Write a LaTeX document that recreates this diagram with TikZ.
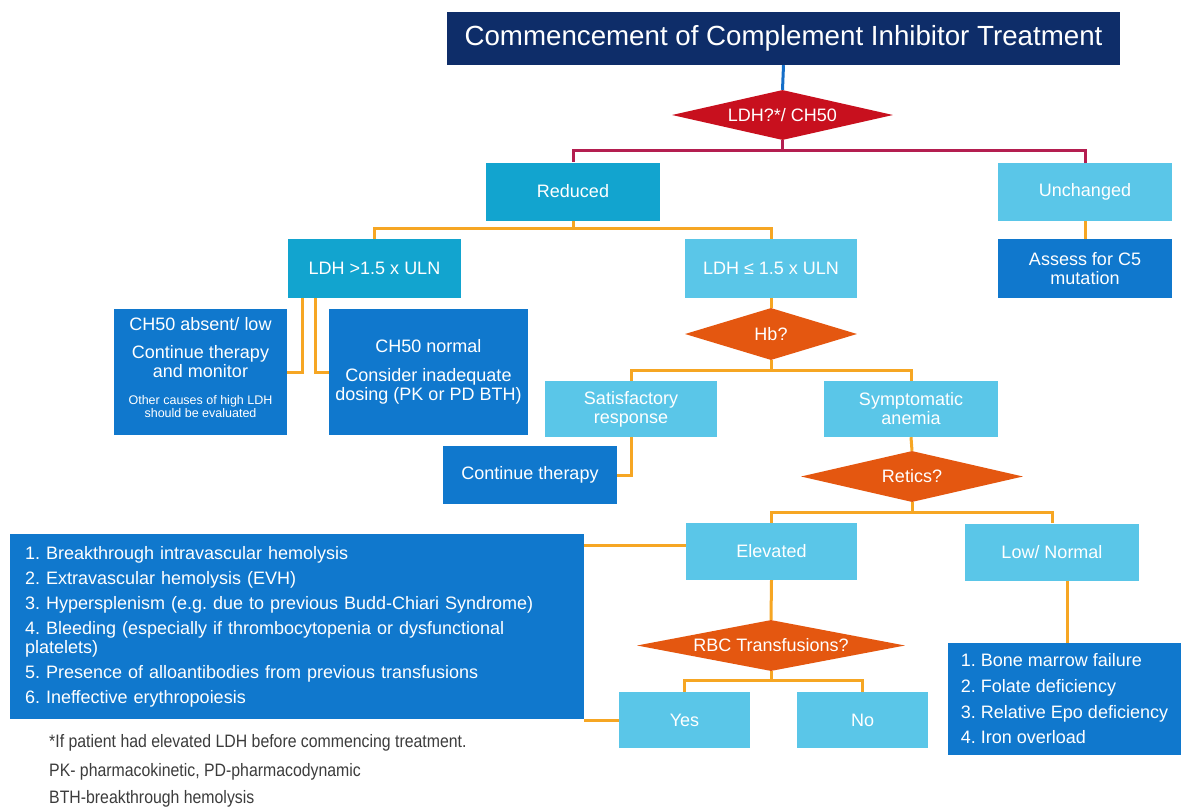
\documentclass[tikz,border=0pt]{standalone}
\usepackage{fontspec}
\setmainfont{Liberation Sans}
\newfontfamily\narrowfont[FakeStretch=0.88]{Liberation Sans}
\usetikzlibrary{shapes.geometric}
\definecolor{cnavy}{RGB}{14,45,105}
\definecolor{cred}{RGB}{200,16,30}
\definecolor{ccrim}{RGB}{180,30,80}
\definecolor{cteal}{RGB}{18,164,207}
\definecolor{clight}{RGB}{90,198,232}
\definecolor{cmed}{RGB}{16,120,205}
\definecolor{corange}{RGB}{228,87,16}
\definecolor{cline}{RGB}{246,166,35}
\definecolor{cblue}{RGB}{20,110,200}
\definecolor{cgray}{RGB}{60,60,60}
\begin{document}
\frenchspacing
\begin{tikzpicture}[x=1pt,y=-1pt,
  box/.style={rectangle, inner sep=0pt, text=white, align=center,
    font=\fontsize{18}{19}\selectfont},
  tealbox/.style={box, fill=cteal},
  lightbox/.style={box, fill=clight},
  medbox/.style={box, fill=cmed},
  dia/.style={diamond, aspect=5, inner sep=0pt, text=white,
    font=\fontsize{18}{19}\selectfont},
  reddia/.style={dia, fill=cred},
  orangedia/.style={dia, fill=corange},
  oline/.style={draw=cline, line width=3pt},
  cline/.style={draw=ccrim, line width=3pt},
  bline/.style={draw=cblue, line width=3pt},
  foot/.style={anchor=base west, inner sep=0pt, text=cgray,
    font=\narrowfont\fontsize{18}{20}\selectfont}
]
\useasboundingbox (0,0) rectangle (1181,808);
\fill[white] (0,0) rectangle (1181,808);

% nodes
\node[box, fill=cnavy, minimum width=673pt, minimum height=53pt,
  font=\fontsize{27.7}{30}\selectfont] (title) at (783.5,38.5)
  {Commencement of Complement Inhibitor Treatment};
\node[reddia, minimum width=221pt, minimum height=50pt] (d1) at (782.5,115) {LDH?*/ CH50};
\node[tealbox, minimum width=174pt, minimum height=58pt] (red) at (573,191.5) {Reduced};
\node[lightbox, minimum width=174pt, minimum height=58pt] (unch) at (1085,192) {Unchanged};
\node[medbox, minimum width=174pt, minimum height=59pt] (assess) at (1085,268.5) {Assess for C5\\mutation};
\node[tealbox, minimum width=173pt, minimum height=59pt] (ldhA) at (374.5,268.5) {LDH >1.5 x ULN};
\node[lightbox, minimum width=172pt, minimum height=59pt] (ldhB) at (771,268.5) {LDH \symbol{"2264} 1.5 x ULN};
\node[medbox, minimum width=173pt, minimum height=126pt] (ch50a) at (200.5,372) {};
\node[box, anchor=north] (ch50at) at (200.5,317) {CH50 absent/ low\\[9pt]Continue therapy\\and monitor};
\node[box, anchor=north, font=\fontsize{12.5}{13}\selectfont] (ch50as) at (200.5,395) {Other causes of high LDH\\should be evaluated};
\node[medbox, minimum width=199pt, minimum height=126pt] (ch50n) at (428.5,372) {CH50 normal\\[10pt]Consider inadequate\\dosing (PK or PD BTH)};
\node[orangedia, minimum width=172pt, minimum height=52pt] (hb) at (771,334) {Hb?};
\node[lightbox, minimum width=172pt, minimum height=56pt] (sat) at (631,409) {Satisfactory\\response};
\node[lightbox, minimum width=174pt, minimum height=56pt] (sym) at (911,409) {Symptomatic\\anemia};
\node[medbox, minimum width=174pt, minimum height=58pt] (cont) at (530,475) {Continue therapy};
\node[orangedia, minimum width=222pt, minimum height=51pt] (ret) at (912,476.5) {Retics?};
\node[lightbox, minimum width=171pt, minimum height=57pt] (elev) at (771.5,551.5) {Elevated};
\node[lightbox, minimum width=174pt, minimum height=57pt] (low) at (1052,552) {Low/ Normal};
\node[orangedia, minimum width=268pt, minimum height=51pt] (rbc) at (771,645.5) {RBC Transfusions?};
\node[lightbox, minimum width=131pt, minimum height=56pt] (yes) at (684.5,720) {Yes};
\node[lightbox, minimum width=131pt, minimum height=56pt] (no) at (862.5,720) {No};
\node[medbox, minimum width=574pt, minimum height=185pt, inner xsep=15pt,
  text width=544pt, align=left] (list1) at (297,626.5)
  {1. Breakthrough intravascular hemolysis\\[6pt]
   2. Extravascular hemolysis (EVH)\\[6pt]
   3. Hypersplenism (e.g. due to previous Budd-Chiari Syndrome)\\[6pt]
   4. Bleeding (especially if thrombocytopenia or dysfunctional\\
   platelets)\\[6pt]
   5. Presence of alloantibodies from previous transfusions\\[6pt]
   6. Ineffective erythropoiesis};
\node[medbox, minimum width=233pt, minimum height=112pt, align=left,
  font=\fontsize{18}{25.7}\selectfont] (list2) at (1064.5,699)
  {1. Bone marrow failure\\2. Folate deficiency\\3. Relative Epo deficiency\\4. Iron overload};
\node[foot] (f1) at (49,747) {*If patient had elevated LDH before commencing treatment.};
\node[foot] (f2) at (49,776) {PK- pharmacokinetic, PD-pharmacodynamic};
\node[foot] (f3) at (49,803) {BTH-breakthrough hemolysis};

% connectors
\draw[bline] (title.south) -- (d1.north);
\draw[cline] (d1.south) -- ++(0,10) -| (red.north);
\draw[cline] (d1.south) -- ++(0,10) -| (unch.north);
\draw[oline] (unch.south) -- (assess.north);
\draw[oline] (red.south) -- ++(0,8) -| (ldhA.north);
\draw[oline] (red.south) -- ++(0,8) -| (ldhB.north);
\draw[oline] ([xshift=-72.5pt]ldhA.south) |- (ch50a.east);
\draw[oline] ([xshift=-59.5pt]ldhA.south) |- (ch50n.west);
\draw[oline] (ldhB.south) -- (hb.north);
\draw[oline] (hb.south) -- ++(0,10) -| (sat.north);
\draw[oline] (hb.south) -- ++(0,10) -| (sym.north);
\draw[oline] (sat.south) |- (cont.east);
\draw[oline] (sym.south) -- (ret.north);
\draw[oline] (ret.south) -- ++(0,10) -| (elev.north);
\draw[oline] (ret.south) -- ++(0,10) -| (low.north);
\coordinate (e1) at ([yshift=6.5pt]elev.west);
\draw[oline] (e1) -- (e1 -| list1.east);
\draw[oline] (elev.south) -- (rbc.north);
\draw[oline] (rbc.south) -- ++(0,9) -| (yes.north);
\draw[oline] (rbc.south) -- ++(0,9) -| (no.north);
\draw[oline] (yes.west) -- (yes.west -| list1.east);
\coordinate (l1) at ([xshift=15pt]low.south);
\draw[oline] (l1) -- (l1 |- list2.north);
\end{tikzpicture}
\end{document}
